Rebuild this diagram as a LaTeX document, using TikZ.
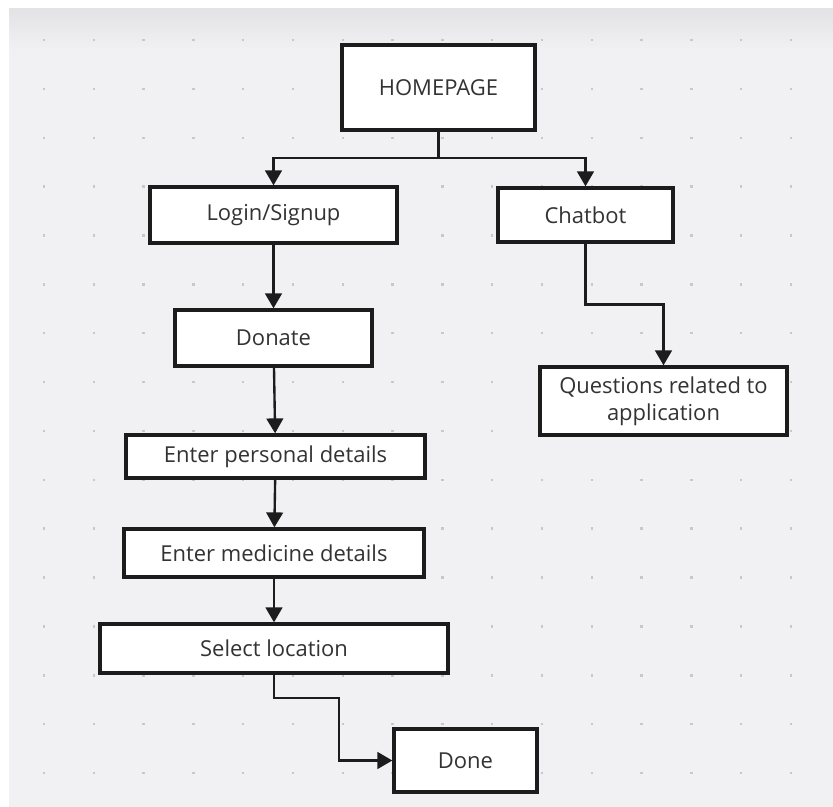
\documentclass[tikz,border=0pt]{standalone}
\usepackage{fontspec}
\setmainfont{Open Sans}
\usetikzlibrary{arrows.meta,positioning,calc}

\definecolor{canvas}{HTML}{F1F1F3}
\definecolor{canvastop}{HTML}{E3E3E5}
\definecolor{griddot}{HTML}{C8C8CA}
\definecolor{ink}{HTML}{1C1C1C}
\definecolor{label}{HTML}{333333}

\begin{document}
\begin{tikzpicture}[x=0.02cm, y=-0.02cm,
    box/.style={rectangle, draw=ink, fill=white, line width=1.9pt, text=label, font=\fontsize{12.5}{15.5}\selectfont, align=center, inner sep=0pt},
    link/.style={draw=ink, line width=1.35pt, -{Triangle[length=8.5pt, width=9.5pt]}}
]
\useasboundingbox (0,0) rectangle (833,807);

% Fond
\fill[canvas] (9,9) rectangle (833,807);
\shade[top color=canvastop, bottom color=canvas] (9,9) rectangle (833,50);

% Points de grille
\foreach \i in {0,...,15} {
    \foreach \j in {0,...,15} {
        \fill[griddot] ({44+49.8*\i-1.2},{40+48.87*\j-1.2}) rectangle ++(2.4,2.4);
    }
}

% Boites
\node[box, minimum width=3.86cm, minimum height=1.70cm] (home) at (438.5, 87.5) {HOMEPAGE};
\node[box, minimum width=4.94cm, minimum height=1.12cm] (login) at (273.5, 215) {Login/Signup};
\node[box, minimum width=3.50cm, minimum height=1.08cm] (chat) at (585.5, 215) {Chatbot};
\node[box, minimum width=3.94cm, minimum height=1.12cm] (donate) at (273.5, 338) {Donate};
\node[box, minimum width=4.94cm, minimum height=1.36cm] (questions) at (663.5, 401) {Questions related to\\application};
\node[box, minimum width=5.98cm, minimum height=0.86cm] (personal) at (275.5, 456.5) {Enter personal details};
\node[box, minimum width=6.00cm, minimum height=0.96cm] (medicine) at (274, 553) {Enter medicine details};
\node[box, minimum width=6.96cm, minimum height=0.98cm] (location) at (274, 648.5) {Select location};
\node[box, minimum width=2.86cm, minimum height=1.26cm] (done) at (465.5, 760.5) {Done};

% Liaisons
\coordinate (split) at (home.south |- 0,158);
\draw[link] (home.south) -- (split) -| (login.north);
\draw[link] (split) -| (chat.north);
\draw[link] (login) -- (donate);
\draw[link] (donate) -- (personal);
\draw[link] (personal) -- (medicine);
\draw[link] (medicine) -- (location);
\draw[link] (chat.south) |- ($(chat.south)!0.5!(questions.north)$) -| (questions.north);
\coordinate (bend) at (339, 698);
\draw[link] (location.south) |- (bend) |- (done.west);

\end{tikzpicture}
\end{document}
